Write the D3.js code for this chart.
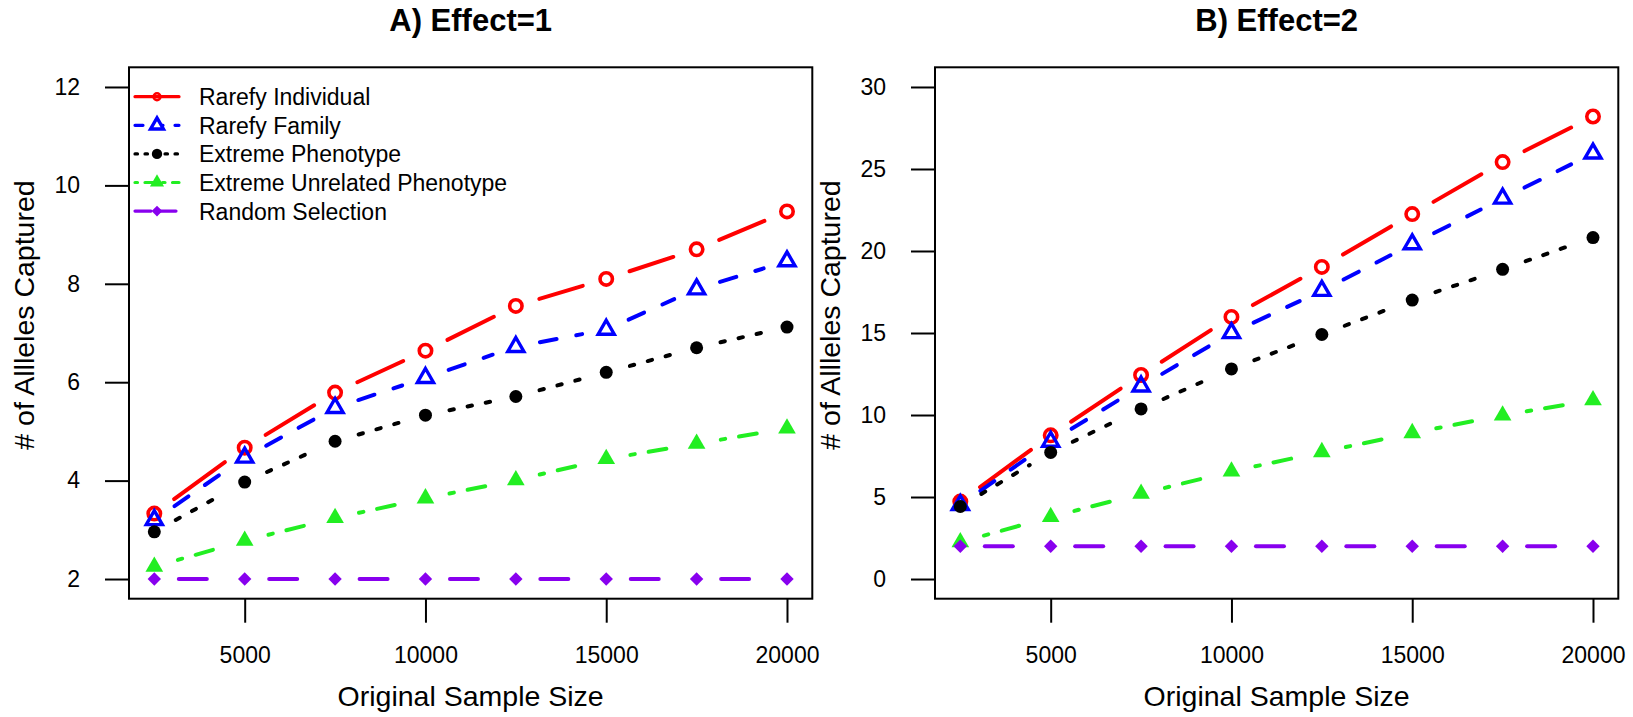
<!DOCTYPE html>
<html>
<head>
<meta charset="utf-8">
<script src="https://cdn.jsdelivr.net/npm/d3@7"></script>
<style>
  body { margin: 0; background: #ffffff; }
  text { font-family: Arial, "Liberation Sans", sans-serif; fill: #000000; }
</style>
</head>
<body>
<svg id="chart" width="1633" height="717"></svg>
<script>

// Original sample sizes on the x axis
var sampleSizes = [2500, 5000, 7500, 10000, 12500, 15000, 17500, 20000];

// Panel A) Effect=1
var rareIndA  = [3.33, 4.67, 5.79, 6.64, 7.55, 8.10, 8.70, 9.47];
var rareFamA  = [3.20, 4.47, 5.48, 6.09, 6.72, 7.07, 7.89, 8.46];
var extPhenA  = [2.96, 3.97, 4.80, 5.33, 5.71, 6.20, 6.70, 7.12];
var extUnrelA = [2.25, 2.78, 3.24, 3.64, 4.01, 4.44, 4.75, 5.06];
var randomA   = [2, 2, 2, 2, 2, 2, 2, 2];

// Panel B) Effect=2
var rareIndB  = [4.72, 8.76, 12.44, 15.98, 19.03, 22.25, 25.42, 28.20];
var rareFamB  = [4.52, 8.38, 11.75, 15.00, 17.58, 20.42, 23.20, 25.95];
var extPhenB  = [4.42, 7.72, 10.37, 12.81, 14.91, 17.01, 18.88, 20.82];
var extUnrelB = [2.25, 3.78, 5.20, 6.56, 7.74, 8.90, 9.98, 10.90];
var randomB   = [2, 2, 2, 2, 2, 2, 2, 2];

var seriesNames = ["Rarefy Individual", "Rarefy Family", "Extreme Phenotype",
                   "Extreme Unrelated Phenotype", "Random Selection"];

var xTicks  = [5000, 10000, 15000, 20000];
var yTicksA = [2, 4, 6, 8, 10, 12];
var yTicksB = [0, 5, 10, 15, 20, 25, 30];

var xTitle = "Original Sample Size";
var yTitle = "# of Allleles Captured";

// line / symbol styles, in the order of seriesNames.
// legendDash is the same R lty pattern, scaled for the thinner legend line
var styles = [
  {colour: "#ff0000", dash: "0",            legendDash: "0",             shape: "circle"},
  {colour: "#0000ff", dash: "17,20",        legendDash: "8,12",          shape: "triangle"},
  {colour: "#000000", dash: "4.5,14",       legendDash: "2.5,7.5",       shape: "dot"},
  {colour: "#22ee22", dash: "4.5,14,18,14", legendDash: "2.5,7.5,10,7.5", shape: "solidTriangle"},
  {colour: "#8800ee", dash: "28,15",        legendDash: "16,9",          shape: "diamond"}
];

var LINE_W = 4;
var GAP    = 24.5;   // type="b" gap around each point

var svg = d3.select("#chart");

/*
 * Draws one plot symbol at px, py.
 */
function drawSymbol(g, shape, colour, px, py, small) {
  var k = small ? 0.8 : 1;
  if (shape === "circle") {
    g.append("circle")
      .attr("cx", px).attr("cy", py)
      .attr("r", small ? 3.4 : 6.2)
      .attr("fill", "none")
      .attr("stroke", colour)
      .attr("stroke-width", small ? 2.6 : 3.6);
  }
  else if (shape === "triangle" || shape === "solidTriangle") {
    var r = (shape === "triangle" ? 9.3 : 10.2) * k;
    var pts = [[px, py - r],
               [px + r * Math.sqrt(3) / 2, py + r / 2],
               [px - r * Math.sqrt(3) / 2, py + r / 2]];
    g.append("path")
      .attr("d", "M" + pts.join("L") + "Z")
      .attr("fill",   shape === "triangle" ? (small ? "#fff" : "none") : colour)
      .attr("stroke", shape === "triangle" ? colour : "none")
      .attr("stroke-width", 3.4)
      .attr("stroke-linejoin", "miter");
  }
  else if (shape === "dot") {
    g.append("circle")
      .attr("cx", px).attr("cy", py)
      .attr("r", 6.5 * k)
      .attr("fill", colour);
  }
  else if (shape === "diamond") {
    var h = 6.7 * k;
    g.append("path")
      .attr("d", "M" + px + "," + (py - h) + "L" + (px + h) + "," + py +
                 "L" + px + "," + (py + h) + "L" + (px - h) + "," + py + "Z")
      .attr("fill", colour);
  }
}

/*
 * Draws a series the way R's type="b" does: separate
 * line segments that stop short of every point.
 */
function drawSeries(g, x, y, values, style) {

  var pts = sampleSizes.map(function(s, i) { return [x(s), y(values[i])]; });

  for (var i = 0; i < pts.length - 1; i++) {
    var dx  = pts[i + 1][0] - pts[i][0];
    var dy  = pts[i + 1][1] - pts[i][1];
    var len = Math.sqrt(dx * dx + dy * dy);
    if (len <= 2 * GAP) continue;
    var ux = dx / len, uy = dy / len;

    g.append("line")
      .attr("x1", pts[i][0]     + ux * GAP)
      .attr("y1", pts[i][1]     + uy * GAP)
      .attr("x2", pts[i + 1][0] - ux * GAP)
      .attr("y2", pts[i + 1][1] - uy * GAP)
      .attr("stroke",           style.colour)
      .attr("stroke-width",     LINE_W)
      .attr("stroke-linecap",   "round")
      .attr("stroke-dasharray", style.dash);
  }

  pts.forEach(function(p) {
    drawSymbol(g, style.shape, style.colour, p[0], p[1], false);
  });
}

/*
 * Draws one panel: box, axes, titles and all series.
 */
function drawPanel(left, title, yDomain, yTicks, data, withLegend) {

  var right  = left + 683.3;
  var top    = 67.3;
  var bottom = 598.7;

  var x = d3.scaleLinear().domain([1800, 20700]).range([left, right]);
  var y = d3.scaleLinear().domain(yDomain).range([bottom, top]);

  var g = svg.append("g");

  // x axis
  var xAxis = g.append("g")
    .attr("transform", "translate(0," + bottom + ")")
    .call(d3.axisBottom(x)
      .tickValues(xTicks)
      .tickSize(24)
      .tickPadding(24)
      .tickFormat(d3.format("d")));

  // y axis
  var yAxis = g.append("g")
    .attr("transform", "translate(" + left + ",0)")
    .call(d3.axisLeft(y)
      .tickValues(yTicks)
      .tickSize(24)
      .tickPadding(25)
      .tickFormat(d3.format("d")));

  [xAxis, yAxis].forEach(function(ax) {
    ax.select(".domain").remove();
    ax.selectAll("line").attr("stroke-width", 2);
    ax.selectAll("text")
      .attr("font-size", 23)
      .attr("font-family", "Arial, 'Liberation Sans', sans-serif");
  });

  // series
  data.forEach(function(values, i) {
    drawSeries(g, x, y, values, styles[i]);
  });

  // plot box
  g.append("rect")
    .attr("x",      left)
    .attr("y",      top)
    .attr("width",  right - left)
    .attr("height", bottom - top)
    .attr("fill",   "none")
    .attr("stroke", "#000")
    .attr("stroke-width", 2);

  // titles
  g.append("text")
    .attr("x", (left + right) / 2)
    .attr("y", 31)
    .attr("text-anchor", "middle")
    .attr("font-size",   31)
    .attr("font-weight", "bold")
    .text(title);

  g.append("text")
    .attr("x", (left + right) / 2)
    .attr("y", 706)
    .attr("text-anchor", "middle")
    .attr("font-size",   28.5)
    .text(xTitle);

  g.append("text")
    .attr("transform", "translate(" + (left - 95) + ",315) rotate(-90)")
    .attr("text-anchor", "middle")
    .attr("font-size",   28.5)
    .text(yTitle);

  if (!withLegend) return;

  // legend, no box
  var legend = g.append("g");
  seriesNames.forEach(function(name, i) {
    var ly = 96.7 + i * 28.6;
    var st = styles[i];

    legend.append("line")
      .attr("x1", left + 6)
      .attr("x2", left + 50)
      .attr("y1", ly)
      .attr("y2", ly)
      .attr("stroke",           st.colour)
      .attr("stroke-width",     3.2)
      .attr("stroke-linecap",   "round")
      .attr("stroke-dasharray", st.legendDash);

    drawSymbol(legend, st.shape, st.colour, left + 28, ly, true);

    legend.append("text")
      .attr("x", left + 70)
      .attr("y", ly + 8.5)
      .attr("font-size", 23)
      .text(name);
  });
}

drawPanel(129, "A) Effect=1", [1.6, 12.4],  yTicksA,
          [rareIndA, rareFamA, extPhenA, extUnrelA, randomA], true);
drawPanel(935, "B) Effect=2", [-1.2, 31.2], yTicksB,
          [rareIndB, rareFamB, extPhenB, extUnrelB, randomB], false);

</script>
</body>
</html>
